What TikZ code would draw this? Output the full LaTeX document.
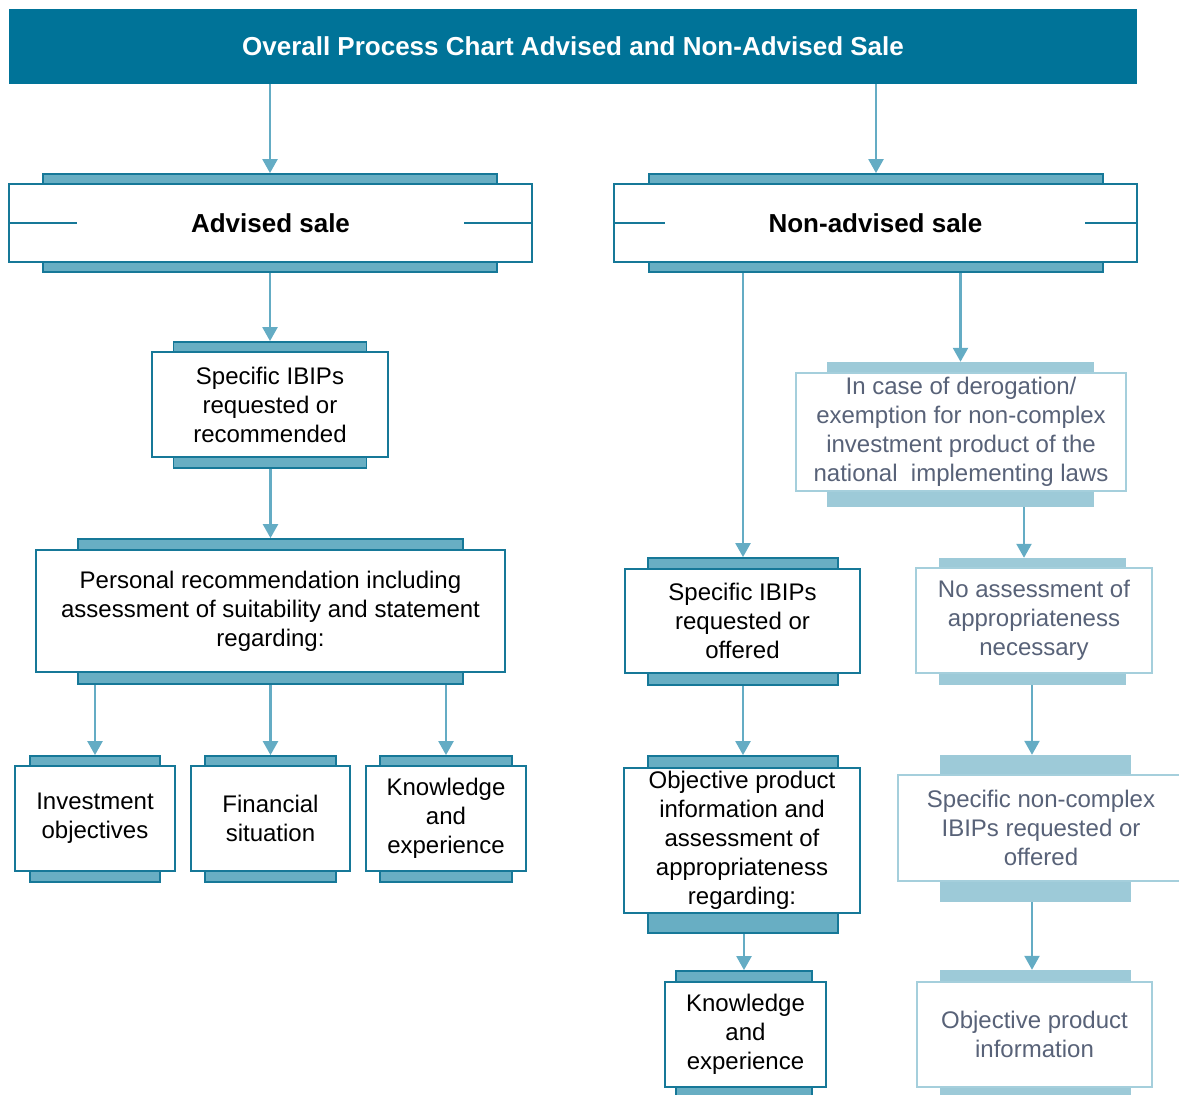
\documentclass[tikz,border=0pt]{standalone}
\usepackage{fontspec}
\setmainfont{Liberation Sans}
\usetikzlibrary{positioning,arrows.meta}
\definecolor{titleblue}{RGB}{0,115,152}
\definecolor{darkteal}{RGB}{22,120,152}
\definecolor{barteal}{RGB}{104,174,195}
\definecolor{arrowblue}{RGB}{100,172,196}
\definecolor{paleedge}{RGB}{165,207,220}
\definecolor{palebar}{RGB}{157,202,216}
\definecolor{greytext}{RGB}{88,98,120}
\tikzstyle{hd}=[%
      rectangle, fill=titleblue, text=white, inner sep=0pt,
      font=\bfseries\fontsize{26}{30}\selectfont
]
\tikzstyle{sale}=[%
      rectangle, draw=darkteal, line width=2pt, fill=white, inner sep=0pt,
      font=\bfseries\fontsize{26}{30}\selectfont
]
\tikzstyle{bx}=[%
      rectangle, draw=darkteal, line width=2pt, fill=white, align=center,
      inner sep=0pt, font=\fontsize{24}{29}\selectfont
]
\tikzstyle{lbx}=[%
      rectangle, draw=paleedge, line width=2pt, fill=white, align=center,
      text=greytext, inner sep=0pt, font=\fontsize{24}{29}\selectfont
]
\tikzstyle{bar}=[%
      rectangle, draw=darkteal, line width=1.8pt, fill=barteal, inner sep=0pt
]
\tikzstyle{lbar}=[%
      rectangle, fill=palebar, inner sep=0pt
]
\tikzstyle{sideline}=[%
      draw=darkteal, line width=2pt
]
\begin{document}
\begin{tikzpicture}[auto,
    x=1pt, y=-1pt,
    >={Triangle[width=15pt,length=14pt]},
    every edge/.style={draw=arrowblue, line width=2.4pt, ->},
]
    \useasboundingbox (0,0) rectangle (1179,1095);

    \node[hd, minimum width=1128pt, minimum height=75pt] (title) at (573,46.5)
        {Overall Process Chart Advised and Non-Advised Sale};

    % advised branch
    \node[bar, minimum width=454pt, minimum height=10pt] (advt) at (270,179) {};
    \node[bar, minimum width=454pt, minimum height=10pt] (advb) at (270,267) {};
    \node[sale, minimum width=523pt, minimum height=78pt] (adv) at (270.5,223) {Advised sale};
    \draw[sideline] (adv.west) -- ++(69,0);
    \draw[sideline] (adv.east) -- ++(-69,0);

    \node[bar, minimum width=193pt, minimum height=10pt] (spect) at (270,347) {};
    \node[bar, minimum width=193pt, minimum height=11pt] (specb) at (270,462.5) {};
    \node[bx, minimum width=236pt, minimum height=105pt] (spec) at (270,404.5)
        {Specific IBIPs\\requested or\\recommended};

    \node[bar, minimum width=385pt, minimum height=11pt] (perst) at (270.5,544.5) {};
    \node[bar, minimum width=385pt, minimum height=12pt] (persb) at (270.5,678) {};
    \node[bx, minimum width=469pt, minimum height=122pt] (pers) at (270.5,611)
        {Personal recommendation including\\assessment of suitability and statement\\regarding:};

    \node[bar, minimum width=130pt, minimum height=10pt] (invt) at (95,761) {};
    \node[bar, minimum width=130pt, minimum height=11pt] (invb) at (95,876.5) {};
    \node[bx, minimum width=160pt, minimum height=105pt] (inv) at (95,818.5)
        {Investment\\objectives};

    \node[bar, minimum width=131pt, minimum height=10pt] (fint) at (270.5,761) {};
    \node[bar, minimum width=131pt, minimum height=11pt] (finb) at (270.5,876.5) {};
    \node[bx, minimum width=159pt, minimum height=105pt] (fin) at (270.5,818.5)
        {Financial\\situation};

    \node[bar, minimum width=132pt, minimum height=10pt] (knowt) at (446,761) {};
    \node[bar, minimum width=132pt, minimum height=11pt] (knowb) at (446,876.5) {};
    \node[bx, minimum width=160pt, minimum height=105pt] (know) at (446,818.5)
        {Knowledge\\and\\experience};

    % non-advised branch
    \node[bar, minimum width=454pt, minimum height=10pt] (nadvt) at (876,179) {};
    \node[bar, minimum width=454pt, minimum height=10pt] (nadvb) at (876,267) {};
    \node[sale, minimum width=523pt, minimum height=78pt] (nadv) at (875.5,223) {Non-advised sale};
    \draw[sideline] (nadv.west) -- ++(52,0);
    \draw[sideline] (nadv.east) -- ++(-53,0);

    \node[bar, minimum width=190pt, minimum height=11pt] (nspect) at (743,563.5) {};
    \node[bar, minimum width=190pt, minimum height=12pt] (nspecb) at (743,679) {};
    \node[bx, minimum width=235pt, minimum height=104pt] (nspec) at (742.5,621)
        {Specific IBIPs\\requested or\\offered};

    \node[bar, minimum width=190pt, minimum height=12pt] (objt) at (743,762) {};
    \node[bar, minimum width=190pt, minimum height=20pt] (objb) at (743,923) {};
    \node[bx, minimum width=236pt, minimum height=145pt] (obj) at (742,840.5)
        {Objective product\\information and\\assessment of\\appropriateness\\regarding:};

    \node[bar, minimum width=136pt, minimum height=11pt] (nknowt) at (744,976.5) {};
    \node[bar, minimum width=136pt, minimum height=10pt] (nknowb) at (744,1092) {};
    \node[bx, minimum width=161pt, minimum height=105pt] (nknow) at (745.5,1034.5)
        {Knowledge\\and\\experience};

    \node[lbar, minimum width=267pt, minimum height=11pt] (derogt) at (960.5,367.5) {};
    \node[lbar, minimum width=267pt, minimum height=16pt] (derogb) at (960.5,499) {};
    \node[lbx, minimum width=330pt, minimum height=118pt] (derog) at (961,432)
        {In case of derogation/\\exemption for non-complex\\investment product of the\\national\ \ implementing laws};

    \node[lbar, minimum width=187pt, minimum height=10pt] (noasst) at (1032.5,563) {};
    \node[lbar, minimum width=187pt, minimum height=12pt] (noassb) at (1032.5,679) {};
    \node[lbx, minimum width=236pt, minimum height=105pt] (noass) at (1034,620.5)
        {No assessment of\\appropriateness\\necessary};

    \node[lbar, minimum width=191pt, minimum height=20pt] (ncspect) at (1035.5,765) {};
    \node[lbar, minimum width=191pt, minimum height=21pt] (ncspecb) at (1035.5,891.5) {};
    \node[lbx, minimum width=286pt, minimum height=106pt] (ncspec) at (1041,828)
        {Specific non-complex\\IBIPs requested or\\offered};

    \node[lbar, minimum width=191pt, minimum height=12pt] (nobjt) at (1035.5,976) {};
    \node[lbar, minimum width=191pt, minimum height=10pt] (nobjb) at (1035.5,1092) {};
    \node[lbx, minimum width=235pt, minimum height=105pt] (nobj) at (1034.5,1034.5)
        {Objective product\\information};

    \coordinate (dx) at (1024,0);
    \coordinate (ex) at (1032,0);

    \path (title.south -| advt)   edge (advt.north)
          (title.south -| nadvt)  edge (nadvt.north)
          (advb.south)            edge (spect.north)
          (specb.south -| perst)  edge (perst.north)
          (persb.south -| invt)   edge (invt.north)
          (persb.south -| fint)   edge (fint.north)
          (persb.south -| knowt)  edge (knowt.north)
          (nadvb.south -| nspect) edge (nspect.north)
          (nadvb.south -| derogt) edge (derogt.north)
          (nspecb.south)          edge (objt.north)
          (objb.south -| nknowt)  edge (nknowt.north)
          (derogb.south -| dx)    edge (noasst.north -| dx)
          (noassb.south -| ex)    edge (ncspect.north -| ex)
          (ncspecb.south -| ex)   edge (nobjt.north -| ex)
    ;
  \end{tikzpicture}
\end{document}
